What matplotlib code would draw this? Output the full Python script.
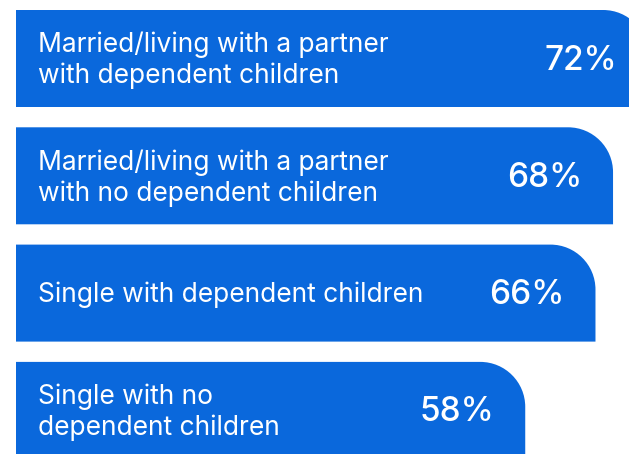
import matplotlib.pyplot as plt
from matplotlib.path import Path
from matplotlib.patches import PathPatch

labels = ['Married/living with a partner\nwith dependent children',
          'Married/living with a partner\nwith no dependent children',
          'Single with dependent children',
          'Single with no\ndependent children']
values = [72, 68, 66, 58]

BLUE = '#0A68DC'
W, H = 629, 454
K = 8.78          # pixels per percentage point
X0 = 16           # left edge of bars in pixels
PITCH = 117.3     # row pitch in pixels
TOP = 10
BAR_H = 97
R = 45            # corner radius in pixels


def bar_path(x_end, y_top, h, rx, ry):
    c = 0.5523
    verts = [(0, y_top + h), (0, y_top), (x_end - rx, y_top),
             (x_end - rx + c * rx, y_top), (x_end, y_top + ry - c * ry), (x_end, y_top + ry),
             (x_end, y_top + h), (0, y_top + h)]
    codes = [Path.MOVETO, Path.LINETO, Path.LINETO,
             Path.CURVE4, Path.CURVE4, Path.CURVE4,
             Path.LINETO, Path.CLOSEPOLY]
    return Path(verts, codes)


def main():
    plt.rcParams['font.family'] = ['Inter', 'DejaVu Sans']
    fig = plt.figure(figsize=(W / 100, H / 100), dpi=100)
    ax = fig.add_axes([0, 0, 1, 1])
    ax.set_xlim(-X0 / K, (W - X0) / K)
    ax.set_ylim(H, 0)
    ax.axis('off')

    for i, (lab, v) in enumerate(zip(labels, values)):
        y_top = TOP + i * PITCH
        ax.add_patch(PathPatch(bar_path(v, y_top, BAR_H, R / K, R),
                               facecolor=BLUE, edgecolor='none'))
        yc = y_top + BAR_H / 2 + 2
        ax.text(22 / K, yc, lab, color='white', fontsize=19, va='center',
                ha='left', linespacing=1.22)
        ax.text(v - 31 / K, yc, f'{v}%', color='white', fontsize=24,
                fontweight='medium', va='center', ha='right')

    fig.savefig('out.png', dpi=100)


if __name__ == '__main__':
    main()
